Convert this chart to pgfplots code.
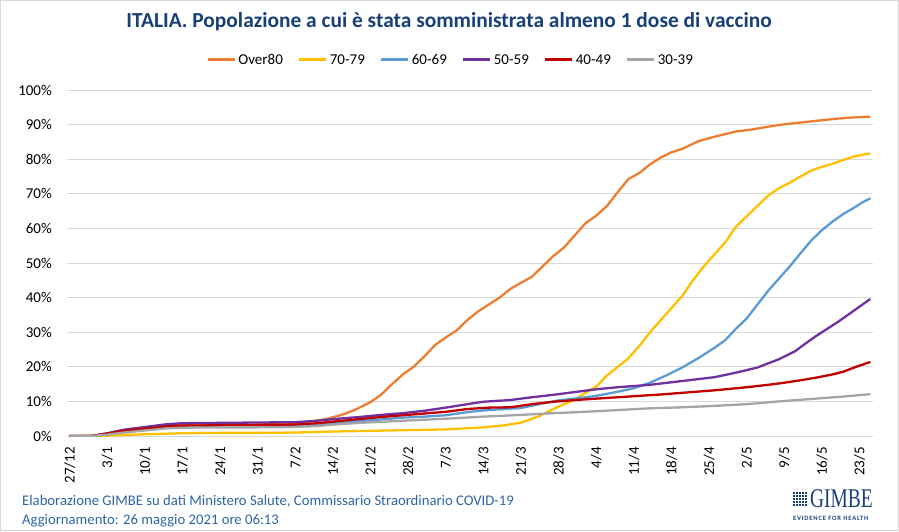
\documentclass[border=0pt]{standalone}
\usepackage{fontspec}
\setmainfont{Carlito}
\newfontfamily\logofont{Liberation Serif}
\usepackage{pgfplots}
\pgfplotsset{compat=1.18}
\definecolor{cOver}{HTML}{ED7D31}
\definecolor{cSett}{HTML}{FFC000}
\definecolor{cSess}{HTML}{5B9BD5}
\definecolor{cCinq}{HTML}{7030A0}
\definecolor{cQuar}{HTML}{C00000}
\definecolor{cTren}{HTML}{A5A5A5}
\definecolor{titleblue}{RGB}{23,64,120}
\definecolor{footblue}{RGB}{46,100,165}
\definecolor{gridgray}{HTML}{D9D9D9}
\begin{document}
\begin{tikzpicture}[x=1pt,y=1pt]
\path (0,0) rectangle (899,531);
\draw[gridgray,line width=1.2pt] (0.6,0.6) rectangle (898.4,530.4);
\node[font=\fontsize{21.4}{25}\selectfont\bfseries,text=titleblue] at (449,509) {ITALIA. Popolazione a cui è stata somministrata almeno 1 dose di vaccino};
\begin{axis}[
  at={(67pt,95pt)}, anchor=south west,
  width=806pt, height=346pt, scale only axis,
  xmin=-0.5, xmax=149.5, ymin=0, ymax=100,
  axis line style={draw=none},
  ymajorgrids, grid style={gridgray,line width=1pt},
  major tick length=0pt,
  xtick={0,7,...,147},
  xticklabels={27/12,3/1,10/1,17/1,24/1,31/1,7/2,14/2,21/2,28/2,7/3,14/3,21/3,28/3,4/4,11/4,18/4,25/4,2/5,9/5,16/5,23/5},
  ytick={0,10,...,100},
  yticklabels={0\%,10\%,20\%,30\%,40\%,50\%,60\%,70\%,80\%,90\%,100\%},
  /pgf/number format/assume math mode=true,
  xticklabel style={font=\fontsize{15}{18}\selectfont, yshift=-11pt, rotate=90, anchor=east, inner sep=0pt},
  yticklabel style={font=\fontsize{15}{18}\selectfont, anchor=east, inner sep=0pt, xshift=-15pt},
  legend columns=6,
  legend style={at={(0.476,1.087)}, anchor=center, draw=none, fill=none,
    font=\fontsize{15}{18}\selectfont, inner sep=0pt,
    /tikz/every even column/.append style={column sep=13pt}},
  legend image code/.code={\draw[#1, line width=3pt] (0pt,0pt) -- (27pt,0pt);},
  every axis plot/.append style={line width=2.3pt, line join=round},
]
\addplot[cOver] coordinates {
(0,0)(4,0)(7,0.5)(10,1.5)(14,2.5)(18,3.0)(21,3.1)(28,3.2)(35,3.3)(42,3.6)(45,4.2)(48,5.0)(51,6.3)(53,7.5)(56,9.8)(58,12.0)(60,15.0)(62,17.8)(64,20.0)(66,23.0)(68,26.3)(70,28.5)(72,30.5)(74,33.5)(76,36.0)(78,38.0)(80,40.0)(82,42.5)(84,44.3)(86,46.0)(88,49.0)(90,52.0)(92,54.5)(94,58.0)(96,61.5)(98,63.7)(100,66.5)(102,70.5)(104,74.3)(106,76.0)(108,78.5)(110,80.5)(112,82.0)(114,83.0)(117,85.2)(120,86.5)(124,88.0)(127,88.6)(130,89.4)(133,90.1)(136,90.6)(139,91.1)(142,91.6)(145,92.0)(149,92.3)
};
\addlegendentry{Over80}
\addplot[cSett] coordinates {
(0,0)(7,0.1)(10,0.3)(14,0.5)(21,0.8)(28,0.9)(35,0.9)(42,1.0)(49,1.3)(56,1.5)(63,1.7)(70,1.9)(77,2.5)(81,3.1)(84,3.9)(87,5.5)(89,7.0)(91,8.5)(94,10.5)(96,12.5)(98,14.3)(100,17.5)(102,20.0)(104,22.5)(106,26.0)(108,30.0)(110,33.5)(112,37.0)(114,40.5)(116,45.0)(118,49.0)(120,52.5)(122,56.0)(124,60.5)(126,63.5)(128,66.5)(130,69.5)(132,71.6)(134,73.2)(136,75.0)(138,76.7)(140,77.8)(142,78.7)(144,79.8)(146,80.8)(149,81.7)
};
\addlegendentry{70-79}
\addplot[cSess] coordinates {
(0,0)(4,0)(7,0.5)(10,1.3)(14,2.0)(18,2.7)(21,2.8)(28,2.9)(35,3.0)(42,3.1)(46,3.4)(50,3.8)(54,4.3)(58,4.8)(62,5.3)(66,5.6)(70,6.0)(74,6.9)(77,7.4)(80,7.7)(84,8.1)(88,9.4)(91,10.3)(95,11.0)(98,11.6)(102,12.8)(105,13.8)(108,15.4)(111,17.5)(114,19.8)(117,22.5)(120,25.5)(122,27.7)(124,31.0)(126,34.0)(128,38.0)(130,42.0)(132,45.5)(134,49.0)(136,52.8)(138,56.5)(140,59.5)(142,62.0)(144,64.2)(146,66.0)(147.5,67.5)(149,68.7)
};
\addlegendentry{60-69}
\addplot[cCinq] coordinates {
(0,0)(4,0)(7,0.8)(10,1.8)(14,2.6)(18,3.4)(21,3.7)(28,3.8)(35,3.9)(42,4.0)(46,4.4)(50,5.0)(54,5.5)(58,6.1)(62,6.6)(66,7.3)(70,8.2)(74,9.2)(77,9.9)(82,10.4)(86,11.2)(90,11.9)(94,12.7)(98,13.5)(102,14.1)(108,14.8)(114,15.9)(120,17.0)(124,18.3)(128,19.8)(132,22.2)(135,24.5)(137,26.8)(139,29.0)(141,31.0)(143,33.0)(146,36.3)(149,39.6)
};
\addlegendentry{50-59}
\addplot[cQuar] coordinates {
(0,0)(4,0)(7,0.7)(10,1.5)(14,2.1)(18,2.8)(21,3.0)(28,3.1)(35,3.2)(42,3.3)(46,3.7)(50,4.3)(54,4.9)(58,5.5)(62,6.0)(66,6.5)(70,7.0)(74,7.8)(78,8.2)(82,8.3)(86,9.2)(90,9.9)(95,10.5)(100,11.0)(105,11.5)(110,12.0)(115,12.6)(120,13.2)(126,14.1)(130,14.8)(133,15.4)(136,16.1)(139,16.9)(142,17.8)(144,18.6)(146,19.8)(149,21.4)
};
\addlegendentry{40-49}
\addplot[cTren] coordinates {
(0,0)(4,0)(7,0.4)(10,1.0)(14,1.6)(18,2.2)(21,2.4)(28,2.5)(35,2.5)(42,2.6)(46,2.9)(50,3.4)(54,3.8)(58,4.1)(62,4.4)(66,4.7)(70,5.0)(77,5.6)(84,6.1)(90,6.6)(96,7.0)(102,7.5)(108,8.0)(114,8.3)(120,8.7)(126,9.2)(132,10.0)(138,10.7)(144,11.4)(149,12.1)
};
\addlegendentry{30-39}
\end{axis}
\node[anchor=base west, font=\fontsize{14.7}{17}\selectfont, text=footblue, inner sep=0pt] at (22,26) {Elaborazione GIMBE su dati Ministero Salute, Commissario Straordinario COVID-19};
\node[anchor=base west, font=\fontsize{14.7}{17}\selectfont, text=footblue, inner sep=0pt] at (22,7) {Aggiornamento: 26 maggio 2021 ore 06:13};
% GIMBE logo
\foreach \i in {0,...,4}{\foreach \j in {0,...,4}{
  \fill[titleblue] (793+\i*3,39.5-\j*3) rectangle ++(2.4,-2.4);}}
\node[anchor=base west, xscale=0.72, font=\logofont\fontsize{27}{27}\selectfont, text=titleblue, inner sep=0pt] at (810,23.5) {GIMBE};
\node[anchor=base west, font=\fontsize{6.6}{7}\selectfont\bfseries\addfontfeature{LetterSpace=12}, text=titleblue, inner sep=0pt] at (793,11) {EVIDENCE FOR HEALTH};
\end{tikzpicture}
\end{document}
